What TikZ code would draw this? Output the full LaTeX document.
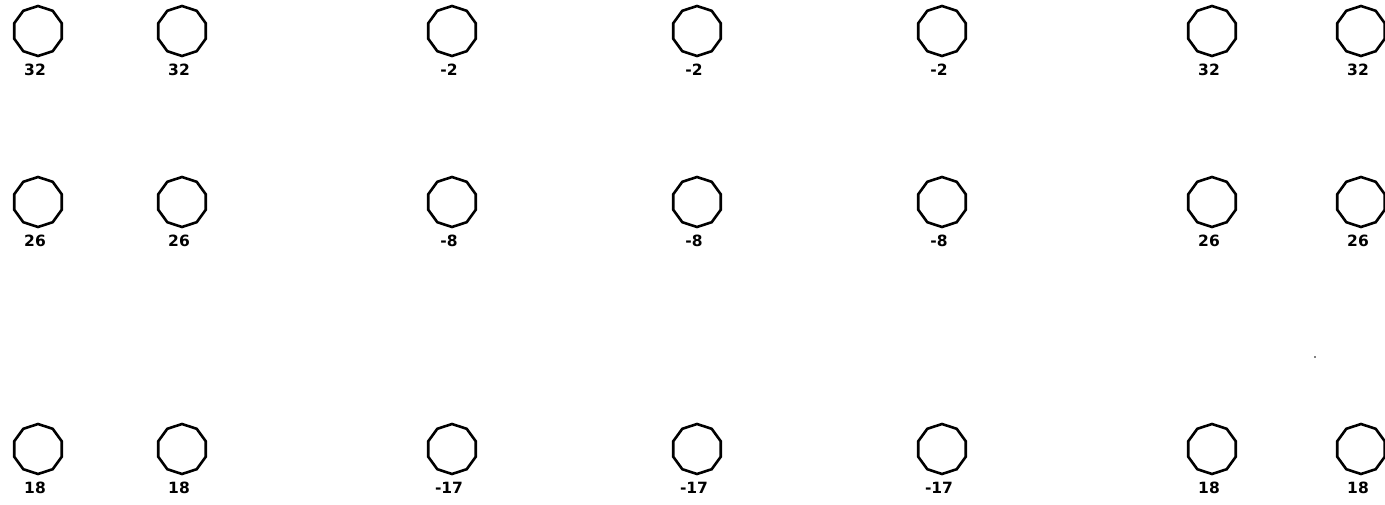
\documentclass[tikz,border=0pt]{standalone}
\usepackage{fontspec}
\newfontfamily\labfont{DejaVu Sans}
\usetikzlibrary{shapes.geometric}
\begin{document}
\begin{tikzpicture}[x=1pt,y=-1pt,
  hole/.style={draw, regular polygon, regular polygon sides=10, shape border rotate=18,
    minimum size=50pt, inner sep=0pt, line width=2.6pt},
  val/.style={font=\labfont\bfseries\fontsize{15.5}{15.5}\selectfont, inner sep=0pt}]
\useasboundingbox (0,0) rectangle (1385,504);
\foreach \r/\y/\a/\b in {1/31/32/-2, 2/202/26/-8, 3/449/18/-17}{
  \foreach \c/\x/\v in {1/38/\a, 2/182/\a, 3/452/\b, 4/697/\b, 5/942/\b, 6/1212/\a, 7/1361/\a}{
    \node[hole] (p\r\c) at (\x,\y) {};
    \node[val] (l\r\c) at ([xshift=-3pt,yshift=-39pt]p\r\c.center) {\v};
  }
}
\fill (1315,357) circle (0.8);
\end{tikzpicture}
\end{document}
